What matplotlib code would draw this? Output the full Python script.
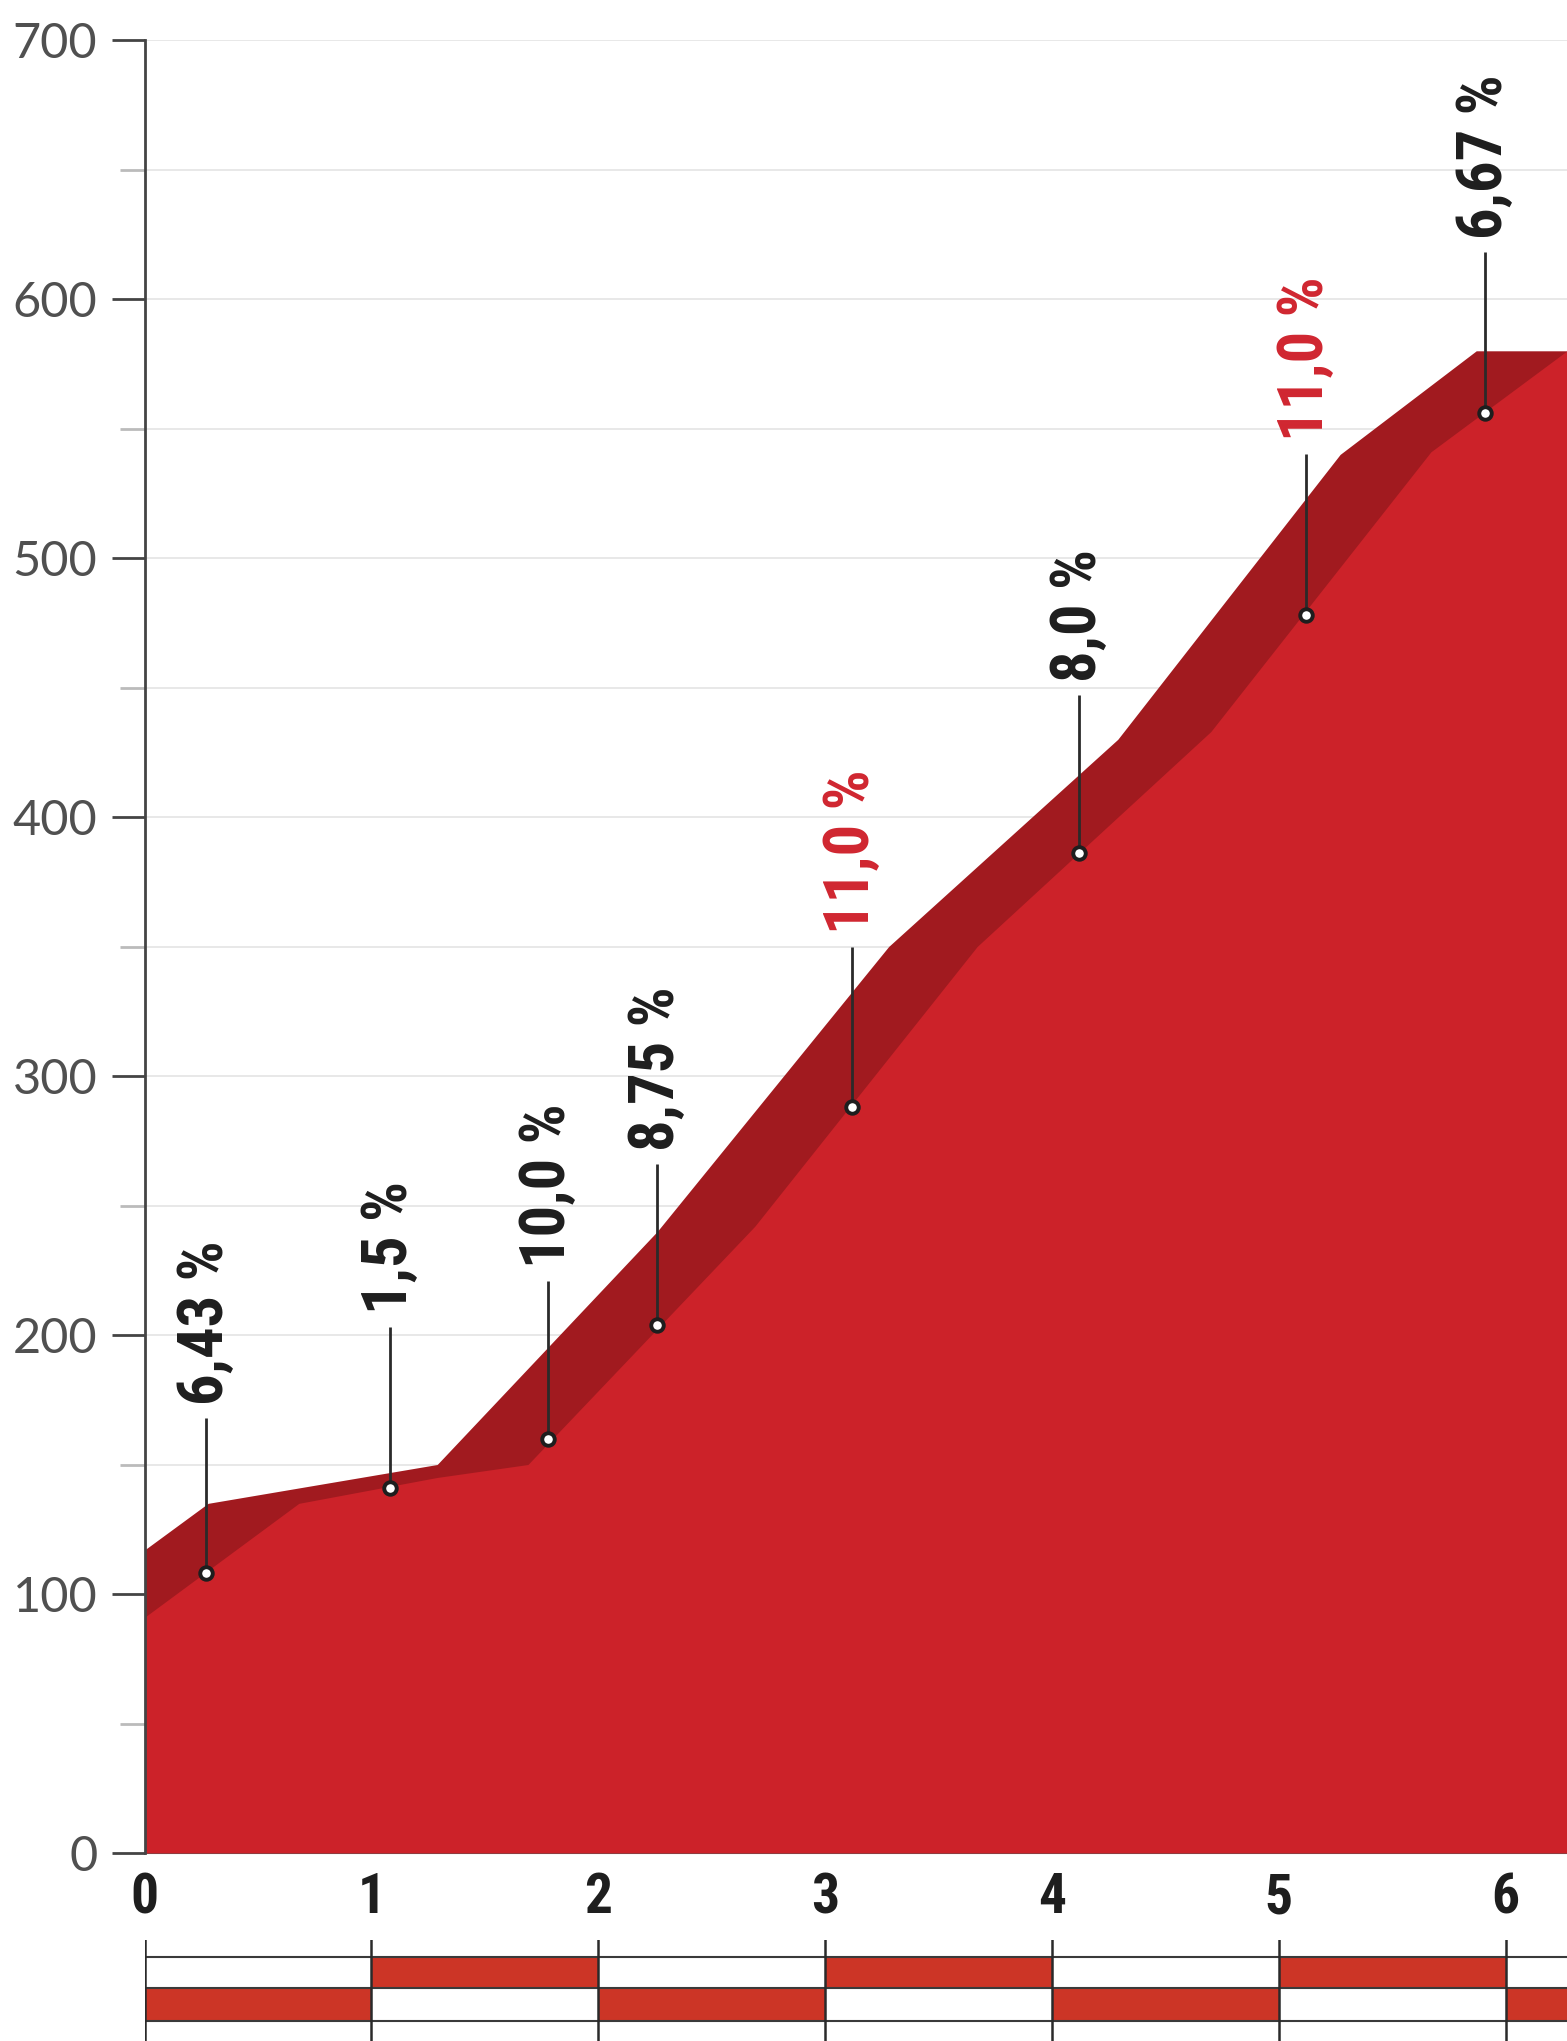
import matplotlib
matplotlib.use("Agg")
import matplotlib.pyplot as plt
from matplotlib import font_manager as fm

# ---------------- data ----------------
top_km = [0.0, 0.28, 1.29, 2.26, 3.28, 4.29, 5.27, 5.87, 6.30]
top_elev = [117, 135, 150, 240, 350, 430, 540, 580, 580]
face_km = [0.0, 0.68, 1.29, 1.69, 2.69, 3.67, 4.70, 5.67, 6.27, 6.30]
face_elev = [91, 135, 145, 150, 242, 350, 433, 541, 580, 580]

marker_km = [0.27, 1.08, 1.78, 2.26, 3.12, 4.12, 5.12, 5.91]
marker_elev = [108, 141, 160, 204, 288, 386, 478, 556]
label_top = [168, 203, 221, 266, 350, 447, 540, 618]
grade_labels = ["6,43 %", "1,5 %", "10,0 %", "8,75 %", "11,0 %", "8,0 %", "11,0 %", "6,67 %"]
grade_steep = [False, False, False, False, True, False, True, False]

x_ticks = [0, 1, 2, 3, 4, 5, 6]
y_ticks = [0, 100, 200, 300, 400, 500, 600, 700]
strip_starts = [0, 1, 2, 3, 4, 5, 6]
strip_row = [0, 1, 0, 1, 0, 1, 0]  # 0 = lower band, 1 = upper band

# ---------------- fonts ----------------
avail = {f.name for f in fm.fontManager.ttflist}
def pick(names):
    for n in names:
        if n in avail:
            return n
    return "DejaVu Sans"
cond = pick(["Liberation Sans Narrow", "DejaVu Sans Condensed", "Roboto Condensed", "Liberation Sans"])
light = pick(["Lato", "Open Sans", "Roboto", "DejaVu Sans"])

RED = "#cc2229"
DARK = "#a11a1f"
STRIP = "#cc3526"
TXT_RED = "#d02630"

W, H = 1567, 2041
fig = plt.figure(figsize=(W / 100, H / 100), dpi=100)
fig.patch.set_facecolor("white")

left = 144.5 / W
ax = fig.add_axes([left, (H - 1853) / H, 1 - left, (1853 - 40) / H])
xmax = 6.27
ax.set_xlim(0, xmax)
ax.set_ylim(0, 700)

# grid
for yv in range(50, 701, 50):
    ax.axhline(yv, color="#e6e6e6", lw=1.3, zorder=0)

ax.fill_between(top_km, 0, top_elev, color=DARK, lw=0, zorder=2)
ax.fill_between(face_km, 0, face_elev, color=RED, lw=0, zorder=3)

# markers + leaders + labels
for k, e, t, lab, steep in zip(marker_km, marker_elev, label_top, grade_labels, grade_steep):
    ax.plot([k, k], [e, t], color="#2a2a2a", lw=2.0, zorder=4, solid_capstyle="butt")
    ax.plot(k, e, "o", ms=9, mfc="white", mec="#1e1e1e", mew=2.8, zorder=5)
    ax.text(k, t + 5, lab, rotation=90, ha="center", va="bottom",
            fontsize=45, fontweight="bold", family=cond,
            color=TXT_RED if steep else "#1e1e1e", zorder=6)

# axes styling
for s in ["top", "right"]:
    ax.spines[s].set_visible(False)
ax.spines["left"].set_color("#444444")
ax.spines["left"].set_linewidth(2)
ax.spines["bottom"].set_color("#555555")
ax.spines["bottom"].set_linewidth(1.5)
ax.spines["left"].set_zorder(7)

ax.set_yticks(y_ticks)
ax.set_yticklabels([str(v) for v in y_ticks], fontsize=35, color="#505050",
                   family=light, fontweight="normal")
ax.set_yticks([50, 150, 250, 350, 450, 550, 650], minor=True)
ax.tick_params(axis="y", which="major", length=24, width=2, color="#444444", pad=10)
ax.tick_params(axis="y", which="minor", length=18, width=2, color="#bbbbbb")

ax.set_xticks(x_ticks)
ax.set_xticklabels([str(v) for v in x_ticks], fontsize=40, fontweight="bold",
                   family=cond, color="#1e1e1e")
ax.tick_params(axis="x", length=0, pad=14)

# ---------------- km strip ----------------
sx = fig.add_axes([left, 0, 1 - left, (H - 1940) / H])
sx.set_xlim(0, xmax)
sx.set_ylim(0, 1)
sx.axis("off")
y_bot, y_mid, y_top = 0.198, 0.525, 0.832
for s0, r in zip(strip_starts, strip_row):
    s1 = min(s0 + 1, xmax)
    lo, hi = (y_bot, y_mid) if r == 0 else (y_mid, y_top)
    sx.fill_between([s0, s1], lo, hi, color=STRIP, lw=0, zorder=1)
for yl in (y_bot, y_mid, y_top):
    sx.plot([0, xmax], [yl, yl], color="#3a3a3a", lw=1.5, zorder=2)
for s0 in strip_starts:
    sx.plot([s0, s0], [0, 1], color="#2a2a2a", lw=1.8, zorder=3)

fig.savefig("out.png", dpi=100, facecolor="white")
